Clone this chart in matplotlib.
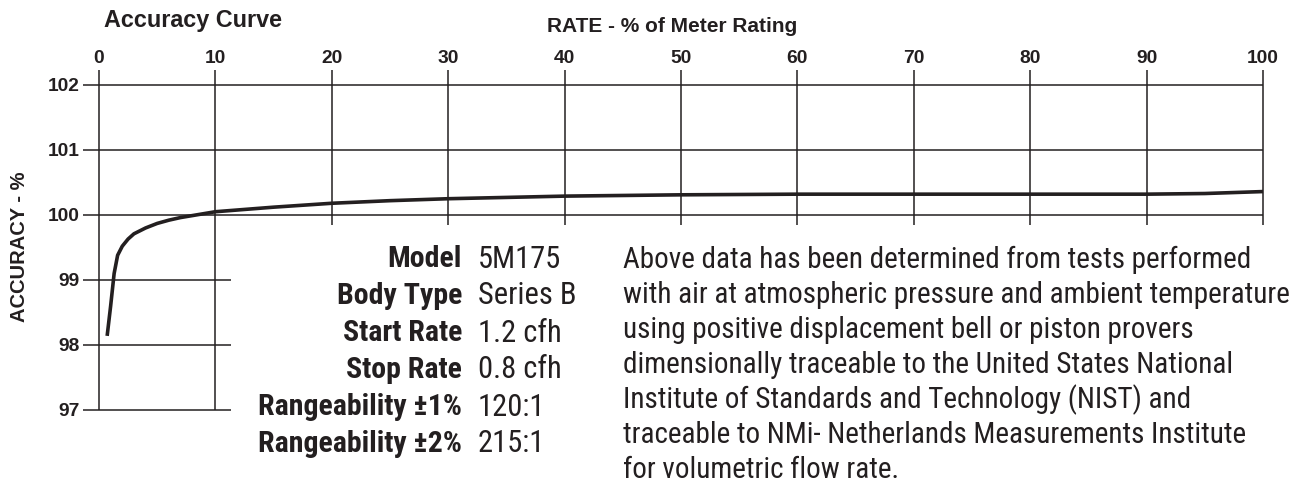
import matplotlib
matplotlib.use("Agg")
import matplotlib.pyplot as plt
from matplotlib import font_manager

# ---------------- data ----------------
rate = [0.7, 1.0, 1.3, 1.6, 2.0, 2.5, 3.0, 4.0, 5.0, 6.0, 7.0, 8.0, 10.0, 15.0,
        20.0, 25.0, 30.0, 40.0, 50.0, 60.0, 70.0, 80.0, 90.0, 95.0, 100.0]
accuracy = [98.14, 98.6, 99.1, 99.38, 99.52, 99.63, 99.71, 99.8, 99.87, 99.92,
            99.96, 99.99, 100.05, 100.12, 100.18, 100.22, 100.25, 100.29, 100.31,
            100.32, 100.32, 100.32, 100.32, 100.33, 100.36]

x_ticks = [0, 10, 20, 30, 40, 50, 60, 70, 80, 90, 100]
y_ticks = [97, 98, 99, 100, 101, 102]

spec_labels = ["Model", "Body Type", "Start Rate", "Stop Rate",
               "Rangeability \u00b11%", "Rangeability \u00b12%"]
spec_values = ["5M175", "Series B", "1.2 cfh", "0.8 cfh", "120:1", "215:1"]

note_lines = [
    "Above data has been determined from tests performed",
    "with air at atmospheric pressure and ambient temperature",
    "using positive displacement bell or piston provers",
    "dimensionally traceable to the United States National",
    "Institute of Standards and Technology (NIST) and",
    "traceable to NMi- Netherlands Measurements Institute",
    "for volumetric flow rate.",
]

# ---------------- fonts ----------------
names = {f.name for f in font_manager.fontManager.ttflist}
narrow = None
for cand in ["Liberation Sans Narrow", "Roboto Condensed", "Open Sans Condensed",
             "DejaVu Sans Condensed", "Liberation Sans"]:
    if cand in names:
        narrow = cand
        break
main = "Liberation Sans" if "Liberation Sans" in names else "DejaVu Sans"

INK = "#231f20"
W, H = 1294, 500
fig = plt.figure(figsize=(W / 100, H / 100), dpi=100)

# axes placement in pixels
xmin, xmax = -1.4, 100.2
ymin, ymax = 97.0, 102.23
px_per_x = 11.64
left_px = 99 + xmin * px_per_x
right_px = 99 + xmax * px_per_x
bot_px, top_px = 410, 70
ax = fig.add_axes([left_px / W, (H - bot_px) / H,
                   (right_px - left_px) / W, (bot_px - top_px) / H])
ax.set_xlim(xmin, xmax)
ax.set_ylim(ymin, ymax)
for s in ax.spines.values():
    s.set_visible(False)

lw = 1.1
# horizontal grid lines
for y in y_ticks:
    xe = 100 if y >= 100 else 11.3
    ax.hlines(y, xmin, xe, color=INK, lw=lw, clip_on=False)
# vertical grid lines
for x in x_ticks:
    yb = 97 if x <= 10 else 99.85
    ax.vlines(x, yb, ymax, color=INK, lw=lw, clip_on=False)

ax.plot(rate, accuracy, color=INK, lw=2.6, solid_capstyle="butt", clip_on=False)

ax.xaxis.tick_top()
ax.set_xticks(x_ticks)
ax.set_xticklabels([str(v) for v in x_ticks])
ax.set_yticks(y_ticks)
ax.set_yticklabels([str(v) for v in y_ticks])
ax.tick_params(axis="both", length=0, labelcolor=INK)
ax.tick_params(axis="x", pad=2.5)
ax.tick_params(axis="y", pad=2)
for lab in ax.get_xticklabels() + ax.get_yticklabels():
    lab.set_fontfamily(main)
    lab.set_fontweight("bold")
    lab.set_fontsize(13.8)

# titles
fig.text(104 / W, 1 - 20 / H, "Accuracy Curve", family=main, weight="bold",
         fontsize=16.8, color=INK, ha="left", va="center")
fig.text(672 / W, 1 - 27 / H, "RATE - % of Meter Rating", family=main, weight="bold",
         fontsize=15, color=INK, ha="center", va="center")
fig.text(20 / W, 1 - 247 / H, "ACCURACY - %", family=main, weight="bold",
         fontsize=14.5, color=INK, ha="center", va="center", rotation=90)

# spec table
row_y = [259, 296, 333, 370, 407, 444]
for lab, val, yp in zip(spec_labels, spec_values, row_y):
    fig.text(462 / W, 1 - yp / H, lab, family=narrow, weight="bold",
             fontsize=21.5, color=INK, ha="right", va="center")
    fig.text(478 / W, 1 - yp / H, val, family=narrow,
             fontsize=22, color=INK, ha="left", va="center")

# note paragraph
for i, line in enumerate(note_lines):
    fig.text(623 / W, 1 - (260 + i * 35.0) / H, line, family=narrow,
             fontsize=21, color=INK, ha="left", va="center")

fig.savefig("out.png", dpi=100)
